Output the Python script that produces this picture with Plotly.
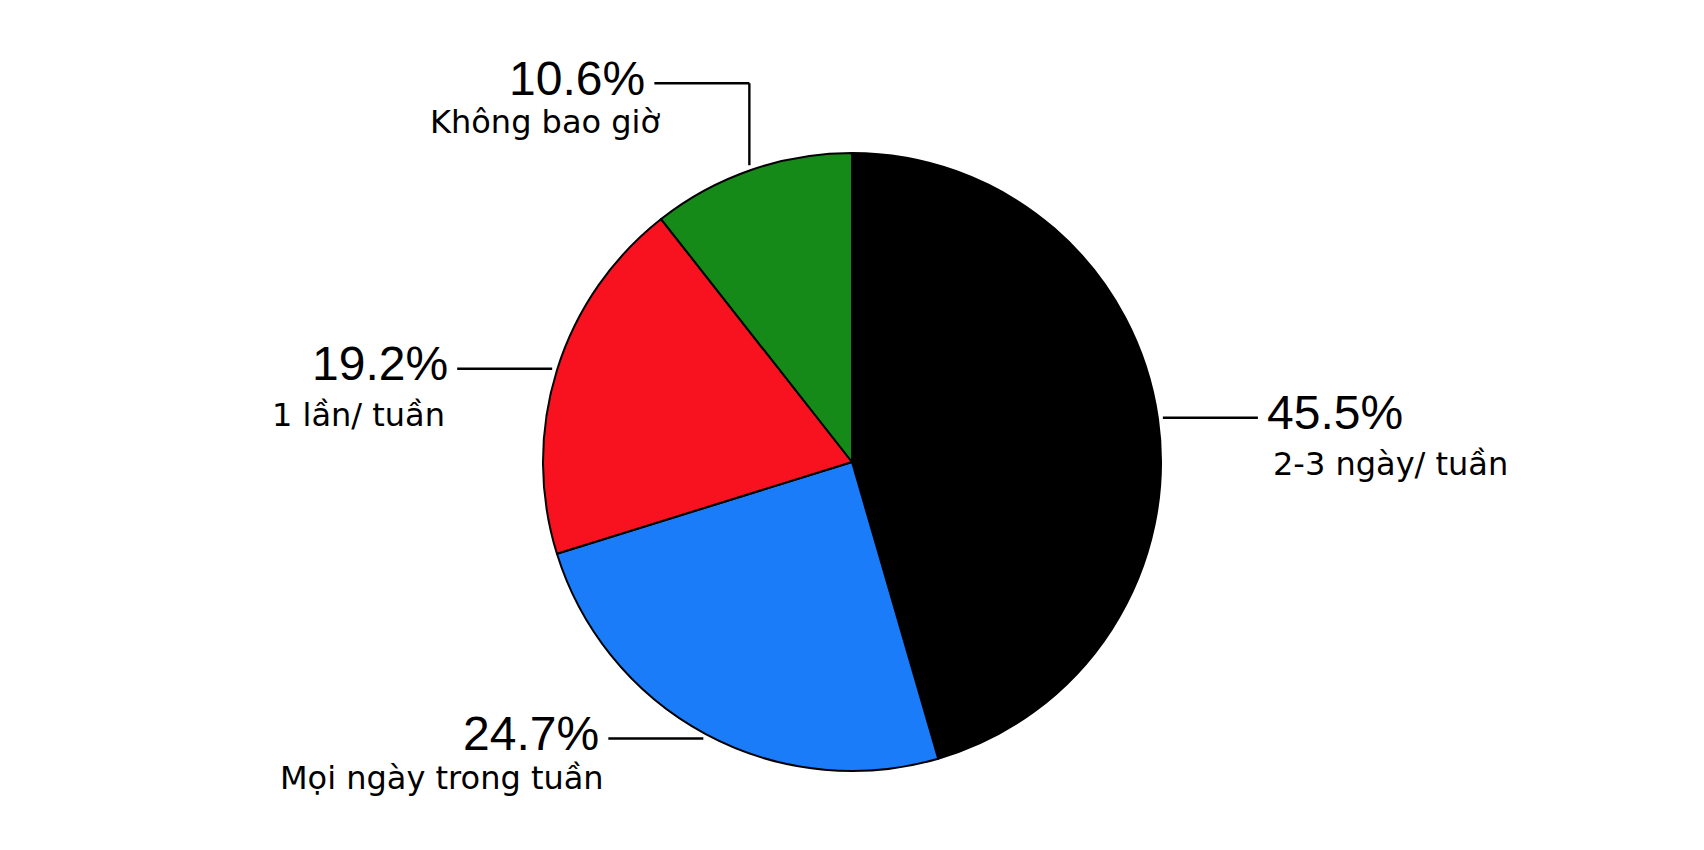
import numpy as np
import plotly.graph_objects as go

# Data
labels = ["2-3 ngày/ tuần", "Mọi ngày trong tuần", "1 lần/ tuần", "Không bao giờ"]
values = [45.5, 24.7, 19.2, 10.6]
colors = ["#000000", "#1a7cf8", "#f8111e", "#158a18"]

# Figure geometry (pixels, page coordinates)
W, H = 1704, 850
off = 8               # default body margin of the html page
cx, cy, R = 852, 462, 309
gap = 5      # distance between pie edge and leader line
arm = 95     # length of horizontal leader
rise = 82    # vertical part of elbow leaders (near top)


def fx(x):
    return (x - off) / W


def fy(y):
    return 1 - (y - off) / H


fig = go.Figure(go.Pie(
    values=values, labels=labels, sort=False,
    direction="clockwise", rotation=0,
    marker=dict(colors=colors, line=dict(color="black", width=2)),
    textinfo="none", hoverinfo="label+percent",
    domain=dict(x=[0, 2 * (cx - off) / W], y=[fy(cy + R), fy(cy - R)]),
    showlegend=False,
))

total = sum(values)
cum = 0
shapes = []
annotations = []
for lab, v in zip(labels, values):
    mid = (cum + v / 2) / total
    cum += v
    th = 2 * np.pi * mid
    r = R + gap
    x0 = cx + r * np.sin(th)
    y0 = cy - r * np.cos(th)
    side = 1 if np.sin(th) > 0 else -1
    pts = [(x0, y0)]
    if np.cos(th) > 0.7:
        pts.append((x0, y0 - rise))
    xe, ye = pts[-1][0] + side * arm, pts[-1][1]
    pts.append((xe, ye))
    for (a, b), (c, d) in zip(pts[:-1], pts[1:]):
        shapes.append(dict(type="line", xref="paper", yref="paper",
                           x0=fx(a), y0=fy(b), x1=fx(c), y1=fy(d),
                           line=dict(color="black", width=2.4)))
    anchor = "left" if side > 0 else "right"
    # labels above/below the pie sit a bit tighter under the number
    vertical = abs(np.cos(th)) > 0.7
    annotations.append(dict(
        x=fx(xe + side * 7), y=fy(ye - 5), xref="paper", yref="paper",
        text=f"{v}%", showarrow=False, xanchor=anchor, yanchor="middle",
        font=dict(family="Liberation Sans", size=48, color="black")))
    if side > 0:
        sx = xe + 13
    elif vertical:
        sx = xe + 8 if np.cos(th) > 0 else xe - 2
    else:
        sx = xe - 10
    annotations.append(dict(
        x=fx(sx), y=fy(ye + (39 if vertical else 46)),
        xref="paper", yref="paper",
        text=lab, showarrow=False, xanchor=anchor, yanchor="middle",
        font=dict(family="DejaVu Sans", size=32, color="black")))

fig.update_layout(
    width=W, height=H,
    margin=dict(l=0, r=0, t=0, b=0, pad=0),
    paper_bgcolor="white", plot_bgcolor="white",
    shapes=shapes, annotations=annotations,
)

fig.write_html("out.html")
